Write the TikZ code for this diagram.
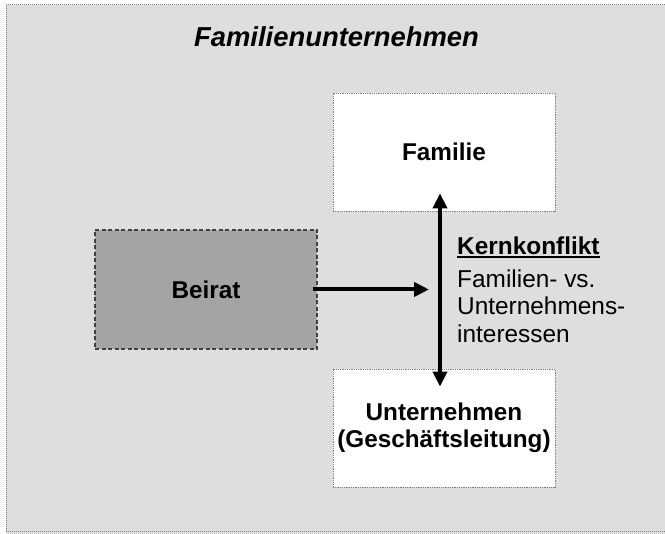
\documentclass[tikz,border=0pt]{standalone}
\usepackage{fontspec}
\setmainfont{Liberation Sans}
\usetikzlibrary{arrows.meta,calc}

\definecolor{panelgray}{HTML}{DEDEDE}
\definecolor{boardgray}{HTML}{A4A4A4}
\definecolor{edgegray}{HTML}{808080}

% thick underline used for the conflict heading
\newcommand\thickul[1]{\setbox0\hbox{#1}\rlap{\rule[-3.5pt]{\wd0}{1.8pt}}\box0}

\begin{document}
\begin{tikzpicture}[x=1pt,y=-1pt,
  boxtext/.style={font=\fontsize{24.3}{27}\selectfont\bfseries, align=center, inner sep=0pt},
  whitebox/.style={boxtext, draw=edgegray, densely dotted, line width=0.8pt, fill=white,
                   minimum width=222pt, minimum height=118pt},
  boardbox/.style={boxtext, draw=black!75, dashed, dash pattern=on 4pt off 2.5pt, line width=1.2pt,
                   fill=boardgray, minimum width=222pt, minimum height=119pt},
  bigarrow/.style={line width=4pt, -{Triangle[length=15pt,width=14pt]}},
  bothways/.style={line width=4pt, {Triangle[length=15pt,width=14pt]}-{Triangle[length=15pt,width=14pt]}}
]
\useasboundingbox (0,0) rectangle (665,534);

% panel background
\fill[panelgray] (6,5) rectangle (665,534);
\draw[edgegray, densely dotted, line width=1pt] (665,5) -- (6,5) -- (6,532) -- (665,532);

% heading
\node[font=\fontsize{27.4}{30}\selectfont\bfseries\itshape, anchor=base, inner sep=0pt]
  (title) at (336.5,47) {Familienunternehmen};

% boxes
\node[whitebox] (fam) at (444,152) {Familie};
\node[whitebox] (unt) at (444,428) {Unternehmen\\(Geschäftsleitung)};
\node[boardbox] (beirat) at (206,289.5) {Beirat};

% conflict description
\node[anchor=north west, align=left, inner sep=0pt, font=\fontsize{24.4}{27.5}\selectfont]
  (konflikt) at (457,236.3)
  {\textbf{\thickul{Kernkonflikt}}\\[5.5pt]Familien- vs.\\Unternehmens-\\interessen};

% connectors
\coordinate (mid) at (429,289.5);
\draw[bigarrow] ($(beirat.east)+(-5,0)$) -- (mid);
\draw[bothways] ($(fam.south)+(-4,-18)$) -- ($(unt.north)+(-4,18)$);
\end{tikzpicture}
\end{document}
